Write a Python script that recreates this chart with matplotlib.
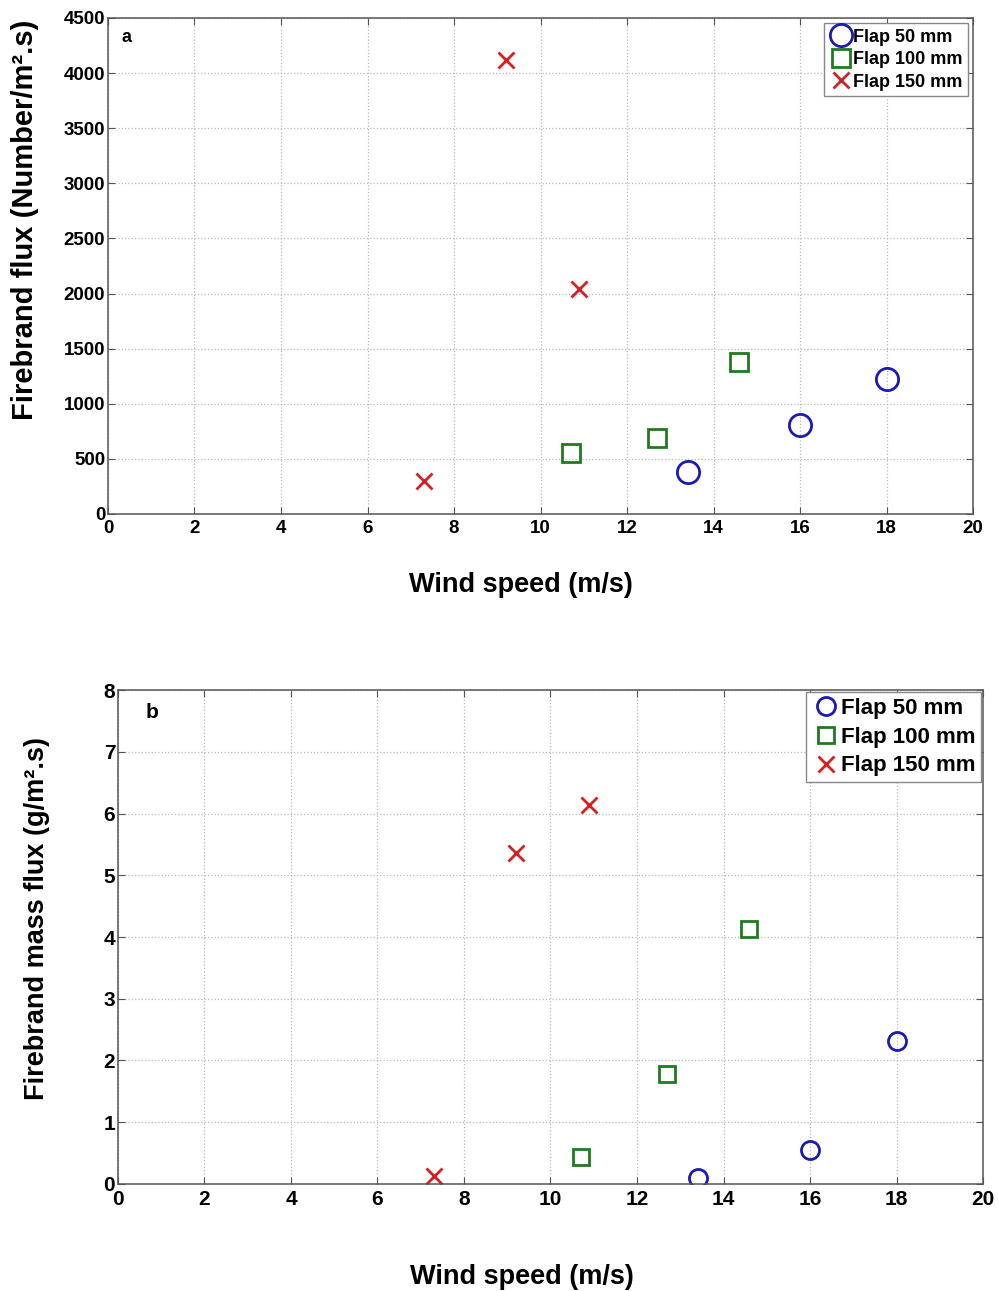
import matplotlib
matplotlib.use("Agg")
import matplotlib.pyplot as plt

plt.rcParams["font.family"] = ["Liberation Sans", "DejaVu Sans"]
plt.rcParams["font.weight"] = "bold"

# wind speed (m/s) per flap height
wind_50 = [13.4, 16.0, 18.0]
wind_100 = [10.7, 12.7, 14.6]
wind_150 = [7.3, 9.2, 10.9]

# (a) firebrand number flux
flux_50 = [380, 805, 1222]
flux_100 = [550, 688, 1375]
flux_150 = [295, 4115, 2045]

# (b) firebrand mass flux
mass_50 = [0.10, 0.55, 2.32]
mass_100 = [0.44, 1.78, 4.13]
mass_150 = [0.13, 5.36, 6.14]

labels = ["Flap 50 mm", "Flap 100 mm", "Flap 150 mm"]
blue, green, red = "#1a1ab4", "#1f7a1f", "#d42020"

fig = plt.figure(figsize=(9.99, 12.91), dpi=100)
ax1 = fig.add_axes([0.1081, 0.6019, 0.8659, 0.3842])
ax2 = fig.add_axes([0.1181, 0.0829, 0.8659, 0.3826])


def style(ax, tick_size):
    ax.set_xlim(0, 20)
    ax.set_xticks(range(0, 21, 2))
    ax.grid(True, linestyle=":", color="#b8b8b8", linewidth=0.9)
    ax.set_axisbelow(True)
    ax.tick_params(direction="in", top=True, right=True, labelsize=tick_size,
                   length=5, color="#555555", pad=2)
    ax.tick_params(axis="x", pad=4)
    for s in ax.spines.values():
        s.set_color("#555555")
        s.set_linewidth(1.1)


# panel a
ax1.plot(wind_50, flux_50, "o", ms=16, mfc="none", mec=blue, mew=2, label=labels[0])
ax1.plot(wind_100, flux_100, "s", ms=13, mfc="none", mec=green, mew=2, label=labels[1])
ax1.plot(wind_150, flux_150, "x", ms=12, mec=red, mew=2, label=labels[2])
style(ax1, 13.5)
ax1.set_ylim(0, 4500)
ax1.set_yticks(range(0, 4501, 500))
ax1.set_xlabel("Wind speed (m/s)", fontsize=19.5, fontweight="bold")
ax1.set_ylabel("Firebrand flux (Number/m\u00b2.s)", fontsize=21, fontweight="bold")
ax1.xaxis.set_label_coords(0.477, -0.143)
ax1.xaxis.label.set_va("center")
ax1.yaxis.set_label_coords(-0.096, 0.593)
ax1.yaxis.label.set_va("center")
ax1.text(0.016, 0.96, "a", transform=ax1.transAxes, fontsize=13, fontweight="bold",
         va="center")
ax1.legend(loc="upper right", fontsize=13, handletextpad=0.0, handlelength=1.3,
           borderpad=0.3, labelspacing=0.3, borderaxespad=0.3, fancybox=False,
           edgecolor="#888888", framealpha=1)

# panel b
ax2.plot(wind_50, mass_50, "o", ms=13, mfc="none", mec=blue, mew=2, label=labels[0])
ax2.plot(wind_100, mass_100, "s", ms=11, mfc="none", mec=green, mew=2, label=labels[1])
ax2.plot(wind_150, mass_150, "x", ms=11, mec=red, mew=2, label=labels[2])
style(ax2, 15)
ax2.set_ylim(0, 8)
ax2.set_yticks(range(0, 9))
ax2.set_xlabel("Wind speed (m/s)", fontsize=19.5, fontweight="bold")
ax2.set_ylabel("Firebrand mass flux (g/m\u00b2.s)", fontsize=19.5, fontweight="bold")
ax2.xaxis.set_label_coords(0.467, -0.188)
ax2.xaxis.label.set_va("center")
ax2.yaxis.set_label_coords(-0.094, 0.538)
ax2.yaxis.label.set_va("center")
ax2.text(0.032, 0.955, "b", transform=ax2.transAxes, fontsize=15, fontweight="bold",
         va="center")
ax2.legend(loc="upper right", fontsize=16, handletextpad=0.0, handlelength=1.3,
           borderpad=0.25, labelspacing=0.35, borderaxespad=0.1, fancybox=False,
           edgecolor="#888888", framealpha=1)

fig.savefig("out.png", dpi=100)
